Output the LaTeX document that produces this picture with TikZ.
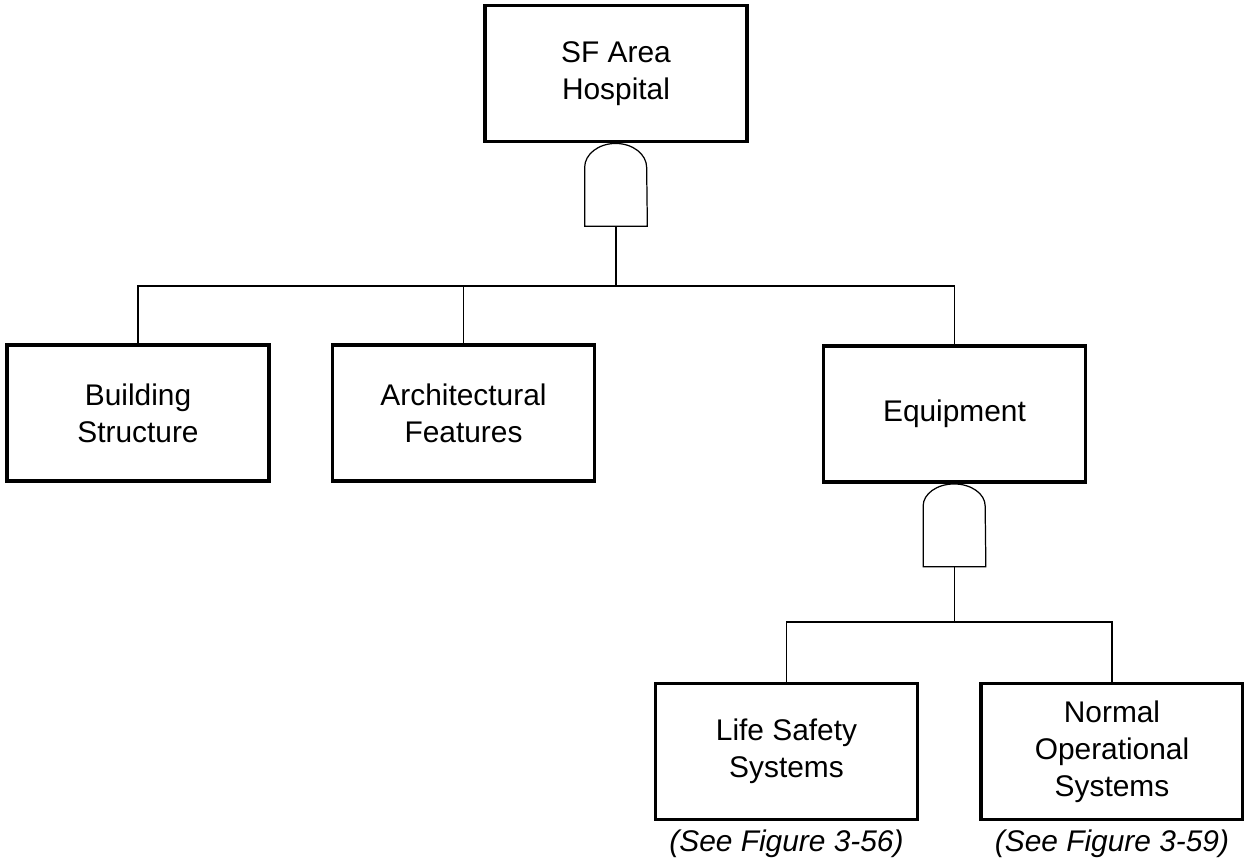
\documentclass[tikz,border=0pt]{standalone}
\usepackage{fontspec}
\setmainfont{Liberation Sans}
\usepackage{tikz}
\usetikzlibrary{positioning, calc}

\begin{document}
\begin{tikzpicture}[
  event/.style={rectangle, draw, line width=2.2pt, minimum width=5.24cm, minimum height=2.72cm, align=center, font=\fontsize{17}{21}\selectfont},
  gatebox/.style={rectangle, inner sep=0pt, minimum width=1.24cm, minimum height=1.64cm},
  gate/.style={draw, line width=0.7pt},
  wire/.style={line width=0.8pt},
  note/.style={inner sep=0pt, font=\fontsize{17}{21}\selectfont\itshape}
]
\useasboundingbox (0,0) rectangle (24.88,-17.22);

% top event and its AND gate
\node[event] (hosp) at (12.32,-1.47) {SF Area\\Hospital};
\node[gatebox, below=0pt of hosp] (g1) {};
\draw[gate] (g1.south west) -- ([yshift=-0.48cm]g1.north west)
  arc[start angle=180, end angle=0, x radius=0.62cm, y radius=0.48cm]
  -- (g1.south east) -- cycle;

% second level
\node[event] (bs) at (2.76,-8.26) {Building\\Structure};
\node[event] (af) at (9.27,-8.26) {Architectural\\Features};
\node[event] (eq) at (19.09,-8.28) {Equipment};

\coordinate (bus1) at (0,-5.72);
\draw[wire] (g1.south) -- (g1.south |- bus1);
\draw[wire] (bs.north) |- (bus1 -| eq.north) -- (eq.north);
\draw[wire] (af.north) -- (af.north |- bus1);

% equipment gate
\node[gatebox, below=0pt of eq] (g2) {};
\draw[gate] (g2.south west) -- ([yshift=-0.44cm]g2.north west)
  arc[start angle=180, end angle=0, x radius=0.62cm, y radius=0.44cm]
  -- (g2.south east) -- cycle;

% third level
\node[event] (ls) at (15.73,-15.03) {Life Safety\\Systems};
\node[event] (nos) at (22.24,-15.03) {Normal\\Operational\\Systems};

\coordinate (bus2) at (0,-12.44);
\draw[wire] (g2.south) -- (g2.south |- bus2);
\draw[wire] (ls.north) |- (bus2 -| nos.north) -- (nos.north);

\node[note, below=0.16cm of ls] (lsref) {(See Figure 3-56)};
\node[note, below=0.16cm of nos] (nosref) {(See Figure 3-59)};

\end{tikzpicture}
\end{document}
